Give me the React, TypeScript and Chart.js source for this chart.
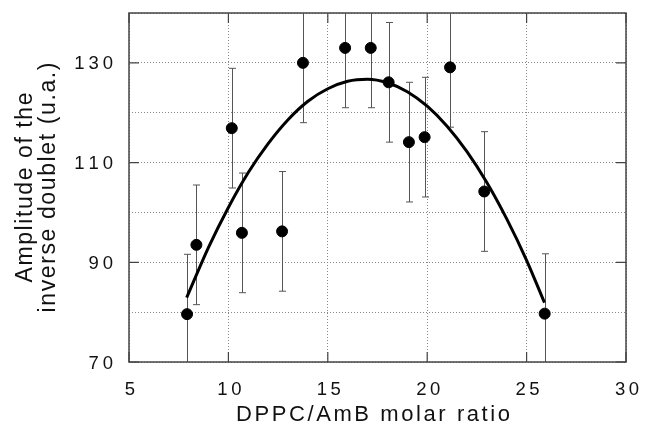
import React, { useEffect, useRef } from "react";
import { Chart, registerables } from "chart.js";

Chart.register(...registerables);

// Measured data (DPPC/AmB molar ratio vs amplitude)
const ratioX = [7.92, 8.39, 10.17, 10.68, 12.7, 13.75, 15.87, 17.16, 18.06, 19.08, 19.87, 21.15, 22.87, 25.91];
const amplitudeY = [79.6, 93.5, 116.9, 95.9, 96.2, 130.0, 133.0, 133.0, 126.1, 114.1, 115.1, 129.1, 104.2, 79.7];
const errorY = [12, 12, 12, 12, 12, 12, 12, 12, 12, 12, 12, 12, 12, 12];

// Fitted curve
const fitX = [7.9, 9, 10, 11, 12, 13, 14, 15, 16, 17, 18, 19, 20, 21, 22, 23, 24, 25, 25.9];
const fitY = [82.9, 93.0, 101.0, 108.0, 113.8, 118.6, 122.3, 124.8, 126.3, 126.7, 126.0, 124.2, 121.3, 117.3, 112.2, 106.0, 98.7, 90.4, 81.9];

const xTicks = [5, 10, 15, 20, 25, 30];
const yLabelTicks = [70, 90, 110, 130];

const xTitle = "DPPC/AmB molar ratio";
const yTitle = ["Amplitude of the", "inverse doublet (u.a.)"];

const FONT = "'Liberation Sans', Arial, Helvetica, sans-serif";

// draw text with custom spacing between characters
function drawSpaced(ctx: CanvasRenderingContext2D, text: string, x: number, y: number, align: "left" | "center" | "right", spacing: number, targetWidth?: number) {
  const chars = Array.from(text);
  const widths = chars.map((c) => ctx.measureText(c).width);
  const natural = widths.reduce((a, b) => a + b, 0);
  let sp = spacing;
  if (targetWidth !== undefined && chars.length > 1) sp = (targetWidth - natural) / (chars.length - 1);
  const total = natural + sp * (chars.length - 1);
  let cx = align === "left" ? x : align === "center" ? x - total / 2 : x - total;
  ctx.textAlign = "left";
  chars.forEach((c, i) => {
    ctx.fillText(c, cx, y);
    cx += widths[i] + sp;
  });
}

export default function App() {
  const ref = useRef<HTMLCanvasElement | null>(null);

  useEffect(() => {
    document.body.style.margin = "0";
    const canvas = ref.current;
    if (!canvas) return;

    const decor = {
      id: "decor",
      beforeDatasetsDraw(chart: any) {
        const { ctx, chartArea, scales } = chart;
        const xs = scales.x;
        const ys = scales.y;
        ctx.save();
        ctx.beginPath();
        ctx.rect(chartArea.left, chartArea.top, chartArea.right - chartArea.left, chartArea.bottom - chartArea.top);
        ctx.clip();
        ctx.strokeStyle = "#555";
        ctx.lineWidth = 1;
        for (let i = 0; i < ratioX.length; i++) {
          const px = Math.round(xs.getPixelForValue(ratioX[i])) + 0.5;
          const top = ys.getPixelForValue(amplitudeY[i] + errorY[i]);
          const bot = ys.getPixelForValue(amplitudeY[i] - errorY[i]);
          ctx.beginPath();
          ctx.moveTo(px, top);
          ctx.lineTo(px, bot);
          ctx.moveTo(px - 3.5, top);
          ctx.lineTo(px + 3.5, top);
          ctx.moveTo(px - 3.5, bot);
          ctx.lineTo(px + 3.5, bot);
          ctx.stroke();
        }
        ctx.restore();
      },
      afterDraw(chart: any) {
        const { ctx, chartArea, scales } = chart;
        const xs = scales.x;
        const ys = scales.y;
        const { left, right, top, bottom } = chartArea;
        ctx.save();
        // frame
        ctx.strokeStyle = "#444";
        ctx.lineWidth = 1.5;
        ctx.strokeRect(left, top, right - left, bottom - top);
        // inner tick marks
        ctx.lineWidth = 1.2;
        ctx.beginPath();
        for (const v of xTicks) {
          const px = xs.getPixelForValue(v);
          ctx.moveTo(px, bottom);
          ctx.lineTo(px, bottom - 10);
          ctx.moveTo(px, top);
          ctx.lineTo(px, top + 10);
        }
        for (const v of yLabelTicks) {
          const py = ys.getPixelForValue(v);
          ctx.moveTo(left, py);
          ctx.lineTo(left + 10, py);
          ctx.moveTo(right, py);
          ctx.lineTo(right - 10, py);
        }
        ctx.stroke();

        ctx.fillStyle = "#111";
        ctx.textBaseline = "alphabetic";
        // tick labels
        ctx.font = `18.5px ${FONT}`;
        for (const v of xTicks) {
          drawSpaced(ctx, String(v), xs.getPixelForValue(v) + 1, 394.5, "center", 3.5);
        }
        for (const v of yLabelTicks) {
          drawSpaced(ctx, String(v), 113, ys.getPixelForValue(v) + 6.6, "right", 4);
        }
        // titles
        ctx.font = `22px ${FONT}`;
        drawSpaced(ctx, xTitle, 373, 421, "center", 0, 274);
        const cy = (top + bottom) / 2;
        ctx.font = `23px ${FONT}`;
        ctx.save();
        ctx.translate(32, cy);
        ctx.rotate(-Math.PI / 2);
        drawSpaced(ctx, yTitle[0], 0, 0, "center", 0, 190);
        ctx.restore();
        ctx.save();
        ctx.translate(55, cy);
        ctx.rotate(-Math.PI / 2);
        drawSpaced(ctx, yTitle[1], 0, 0, "center", 0, 250);
        ctx.restore();
        ctx.restore();
      },
    };

    const chart = new Chart(canvas, {
      type: "scatter",
      data: {
        datasets: [
          {
            label: "data",
            data: ratioX.map((x, i) => ({ x, y: amplitudeY[i] })),
            backgroundColor: "#000",
            borderColor: "#000",
            pointRadius: 5.5,
            pointHoverRadius: 5.5,
            showLine: false,
            order: 1,
          },
          {
            label: "fit",
            data: fitX.map((x, i) => ({ x, y: fitY[i] })),
            borderColor: "#000",
            borderWidth: 3,
            pointRadius: 0,
            showLine: true,
            fill: false,
            tension: 0.4,
            cubicInterpolationMode: "monotone",
            order: 2,
          },
        ],
      },
      options: {
        animation: false,
        responsive: false,
        events: [],
        layout: { padding: { top: 13, right: 20, left: 0, bottom: 0 } },
        plugins: { legend: { display: false }, tooltip: { enabled: false } },
        scales: {
          x: {
            type: "linear",
            min: 5,
            max: 30,
            afterFit: (s: any) => {
              s.height = 63;
              s.paddingLeft = 0;
              s.paddingRight = 0;
            },
            afterBuildTicks: (s: any) => {
              s.ticks = xTicks.map((v) => ({ value: v }));
            },
            border: { display: false, dash: [1, 2] },
            grid: { color: "#888", drawTicks: false, lineWidth: 1 },
            ticks: { display: false },
          },
          y: {
            type: "linear",
            min: 70,
            max: 140,
            afterFit: (s: any) => {
              s.width = 129;
              s.paddingTop = 0;
              s.paddingBottom = 0;
            },
            border: { display: false, dash: [1, 2] },
            grid: { color: "#888", drawTicks: false, lineWidth: 1 },
            ticks: { display: false, stepSize: 10 },
          },
        },
      },
      plugins: [decor],
    } as any);

    return () => chart.destroy();
  }, []);

  return (
    <div style={{ position: "absolute", left: 0, top: 0, width: 646, height: 425 }}>
      <canvas ref={ref} width={646} height={425} style={{ display: "block" }} />
    </div>
  );
}
